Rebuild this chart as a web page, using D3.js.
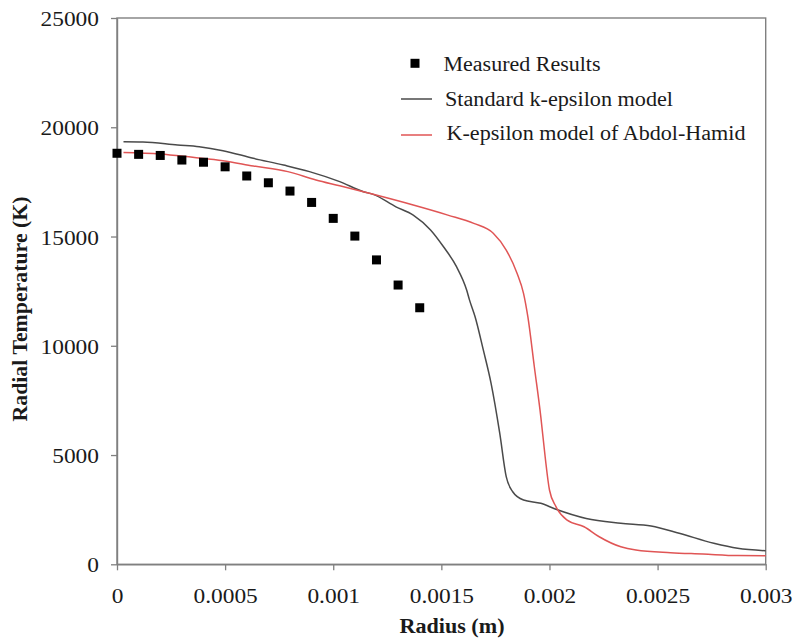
<!DOCTYPE html>
<html><head><meta charset="utf-8">
<script src="https://cdn.jsdelivr.net/npm/d3@7"></script>
<style>body{margin:0;background:#fff}svg{display:block}
svg text{font-family:"Liberation Serif","Times New Roman","DejaVu Serif",serif;}</style>
</head><body>
<svg id="c" width="794" height="640"></svg>
<script>
// ---- data ----
const measuredR = [0,0.0001,0.0002,0.0003,0.0004,0.0005,0.0006,0.0007,0.0008,0.0009,0.001,0.0011,0.0012,0.0013,0.0014];
const measuredT = [18810,18760,18710,18500,18400,18190,17770,17460,17080,16560,15830,15020,13930,12780,11740];

const standardR = [0.00003,0.00012,0.00028,0.00038,0.00049,0.00063,0.00077,0.00089,0.00103,0.00114,0.001185,0.00129,0.00137,0.00145,0.00151,0.00157,0.001617,0.00163,0.001656,0.001694,0.00173,0.00177,0.0018,0.00183,0.00188,0.00196,0.00203,0.00217,0.00233,0.00247,0.0026,0.00276,0.00287,0.003];
const standardT = [19340,19330,19190,19110,18930,18580,18270,17970,17510,17050,16930,16360,15980,15300,14530,13620,12550,12100,11330,9810,8280,6000,4010,3320,2940,2790,2520,2100,1880,1750,1420,960,730,620];

const abdolR = [0.00003,0.0002,0.00035,0.00049,0.00063,0.00079,0.00092,0.00103,0.001185,0.00137,0.00153,0.00165,0.00174,0.0018,0.00185,0.00188,0.0019,0.00193,0.00196,0.00198,0.002,0.00203,0.00208,0.00216,0.00223,0.00233,0.0024,0.00256,0.00271,0.00287,0.003];
const abdolT = [18850,18780,18625,18470,18230,17970,17590,17320,16930,16440,15980,15600,15150,14380,13320,12400,11330,9040,6750,4920,3400,2640,2030,1720,1260,800,650,530,470,400,390];

const xTicks = [0,0.0005,0.001,0.0015,0.002,0.0025,0.003];
const xTickLabels = ["0","0.0005","0.001","0.0015","0.002","0.0025","0.003"];
const yTicks = [0,5000,10000,15000,20000,25000];
const yTickLabels = ["0","5000","10000","15000","20000","25000"];
const legendLabels = ["Measured Results","Standard k-epsilon model","K-epsilon model of Abdol-Hamid"];
const xTitle = "Radius (m)";
const yTitle = "Radial Temperature (K)";

// ---- layout ----
const L = 117, R = 765.7, T = 18, B = 564.3;
const svg = d3.select("#c");
const txtCol = "#1a1a1a", axCol = "#808080";
const blackCol = "#4a4a4a", redCol = "#e05555";

const x = d3.scaleLinear().domain([0,0.003]).range([L,R]);
const y = d3.scaleLinear().domain([0,25000]).range([B,T]);

// frame
svg.append("rect").attr("x",L).attr("y",T).attr("width",R-L).attr("height",B-T)
  .attr("fill","none").attr("stroke",axCol).attr("stroke-width",1.4);

const xAxis = svg.append("g").attr("transform",`translate(0,${B})`)
  .call(d3.axisBottom(x).tickValues(xTicks).tickFormat((d,i)=>xTickLabels[i]).tickSize(6).tickSizeOuter(0).tickPadding(18.5));
const yAxis = svg.append("g").attr("transform",`translate(${L},0)`)
  .call(d3.axisLeft(y).tickValues(yTicks).tickFormat((d,i)=>yTickLabels[i]).tickSize(6).tickSizeOuter(0).tickPadding(12));
[xAxis,yAxis].forEach(g=>{
  g.attr("font-family",null);
  g.select(".domain").attr("stroke",axCol).attr("stroke-width",1.4);
  g.selectAll(".tick line").attr("stroke",axCol).attr("stroke-width",1.3);
  g.selectAll(".tick text").attr("font-size",20).attr("fill",txtCol);
});
yAxis.selectAll(".tick text").attr("dy","0.38em");

// lines
const line = d3.line().x(d=>x(d[0])).y(d=>y(d[1])).curve(d3.curveMonotoneX);
svg.append("path").datum(standardR.map((r,i)=>[r,standardT[i]]))
  .attr("d",line).attr("fill","none").attr("stroke",blackCol).attr("stroke-width",1.5);
svg.append("path").datum(abdolR.map((r,i)=>[r,abdolT[i]]))
  .attr("d",line).attr("fill","none").attr("stroke",redCol).attr("stroke-width",1.5);

// measured squares
const sq = 9;
svg.append("g").selectAll("rect").data(measuredR.map((r,i)=>[r,measuredT[i]])).join("rect")
  .attr("x",d=>x(d[0])-sq/2).attr("y",d=>y(d[1])-sq/2).attr("width",sq).attr("height",sq).attr("fill","#000");

// legend
const lg = svg.append("g");
lg.append("rect").attr("x",415-sq/2).attr("y",63.3-sq/2).attr("width",sq).attr("height",sq).attr("fill","#000");
lg.append("line").attr("x1",401).attr("x2",432).attr("y1",99).attr("y2",99).attr("stroke",blackCol).attr("stroke-width",1.5);
lg.append("line").attr("x1",401).attr("x2",432).attr("y1",135).attr("y2",135).attr("stroke",redCol).attr("stroke-width",1.5);
const legX = [443.5,445,446.5], legY = [70.5,105.5,140], legW = [157,228,299];
legendLabels.forEach((t,i)=>{
  lg.append("text").attr("x",legX[i]).attr("y",legY[i]).attr("font-size",20)
    .attr("fill",txtCol).attr("textLength",legW[i]).attr("lengthAdjust","spacingAndGlyphs").text(t);
});

// titles
svg.append("text").attr("x",452).attr("y",633).attr("text-anchor","middle")
  .attr("font-size",20).attr("font-weight","bold").attr("fill",txtCol)
  .attr("textLength",105).attr("lengthAdjust","spacingAndGlyphs").text(xTitle);
svg.append("text").attr("transform","translate(27,309) rotate(-90)").attr("text-anchor","middle")
  .attr("font-size",20).attr("font-weight","bold").attr("fill",txtCol)
  .attr("textLength",225).attr("lengthAdjust","spacingAndGlyphs").text(yTitle);

// horizontal stretch of tick labels to match reference
svg.selectAll(".tick text").each(function(){
  const w = this.getComputedTextLength();
  d3.select(this).attr("textLength",w*1.17).attr("lengthAdjust","spacingAndGlyphs");
});
</script>
</body></html>
